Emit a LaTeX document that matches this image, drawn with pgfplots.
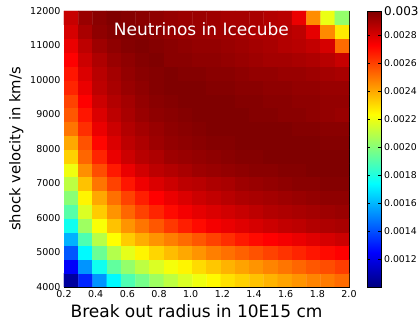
\documentclass[border=0pt]{standalone}
\usepackage{pgfplots}
\pgfplotsset{compat=1.18}
\usepackage{fontspec}
\setmainfont{DejaVu Sans}
\begin{document}
\begin{tikzpicture}
\begin{axis}[
  name=main,
  scale only axis,
  width=285pt, height=276pt,
  xmin=0.2, xmax=2.0, ymin=4000, ymax=12000,
  scaled ticks=false,
  xtick={0.2,0.4,0.6,0.8,1.0,1.2,1.4,1.6,1.8,2.0},
  xticklabels={0.2,0.4,0.6,0.8,1.0,1.2,1.4,1.6,1.8,2.0},
  ytick={4000,5000,6000,7000,8000,9000,10000,11000,12000},
  yticklabels={4000,5000,6000,7000,8000,9000,10000,11000,12000},
  tick label style={font=\fontsize{9.5}{11}\selectfont},
  tick align=inside,
  major tick length=4pt,
  tick style={black, line width=0.5pt},
  axis line style={black, line width=0.6pt},
  xlabel={Break out radius in 10E15 cm},
  xlabel style={font=\fontsize{17}{20}\selectfont, xshift=-10pt, inner ysep=0pt, yshift=-3pt},
  ylabel={shock velocity in km/s},
  ylabel style={font=\fontsize{14.8}{17}\selectfont},
  colormap/jet,
  point meta min=0.001, point meta max=0.00297,
  colorbar shift/.style={xshift=18pt},
  colorbar,
  colorbar style={
    at={(parent axis.north east)}, anchor=north west,
    scale only axis, width=14pt, height=276pt,
    scaled ticks=false,
    ytick={0.0012,0.0014,0.0016,0.0018,0.0020,0.0022,0.0024,0.0026,0.0028,0.00297},
    yticklabels={0.0012,0.0014,0.0016,0.0018,0.0020,0.0022,0.0024,0.0026,0.0028,{\fontsize{12}{14}\selectfont 0.003}},
    yticklabel style={font=\fontsize{9.3}{11}\selectfont, inner xsep=0pt, xshift=3pt},
    tick align=inside, major tick length=3pt,
    axis line style={black, line width=0.5pt},
  },
]
\addplot[matrix plot*, mesh/cols=20, mesh/rows=20, point meta=explicit] coordinates {
(0.245,4200)[1.059e-3] (0.335,4200)[1.315e-3] (0.425,4200)[1.532e-3] (0.515,4200)[1.729e-3] (0.605,4200)[1.887e-3] (0.695,4200)[1.965e-3] (0.785,4200)[2.044e-3] (0.875,4200)[2.103e-3] (0.965,4200)[2.162e-3] (1.055,4200)[2.202e-3] (1.145,4200)[2.241e-3] (1.235,4200)[2.290e-3] (1.325,4200)[2.320e-3] (1.415,4200)[2.349e-3] (1.505,4200)[2.379e-3] (1.595,4200)[2.409e-3] (1.685,4200)[2.438e-3] (1.775,4200)[2.468e-3] (1.865,4200)[2.487e-3] (1.955,4200)[2.517e-3]
(0.245,4600)[1.236e-3] (0.335,4600)[1.532e-3] (0.425,4600)[1.768e-3] (0.515,4600)[1.926e-3] (0.605,4600)[2.024e-3] (0.695,4600)[2.103e-3] (0.785,4600)[2.162e-3] (0.875,4600)[2.212e-3] (0.965,4600)[2.251e-3] (1.055,4600)[2.300e-3] (1.145,4600)[2.340e-3] (1.235,4600)[2.379e-3] (1.325,4600)[2.409e-3] (1.415,4600)[2.438e-3] (1.505,4600)[2.468e-3] (1.595,4600)[2.497e-3] (1.685,4600)[2.527e-3] (1.775,4600)[2.556e-3] (1.865,4600)[2.576e-3] (1.955,4600)[2.606e-3]
(0.245,5000)[1.414e-3] (0.335,5000)[1.729e-3] (0.425,5000)[1.946e-3] (0.515,5000)[2.084e-3] (0.605,5000)[2.182e-3] (0.695,5000)[2.251e-3] (0.785,5000)[2.310e-3] (0.875,5000)[2.359e-3] (0.965,5000)[2.399e-3] (1.055,5000)[2.438e-3] (1.145,5000)[2.478e-3] (1.235,5000)[2.507e-3] (1.325,5000)[2.537e-3] (1.415,5000)[2.566e-3] (1.505,5000)[2.596e-3] (1.595,5000)[2.625e-3] (1.685,5000)[2.655e-3] (1.775,5000)[2.684e-3] (1.865,5000)[2.704e-3] (1.955,5000)[2.724e-3]
(0.245,5400)[1.591e-3] (0.335,5400)[1.887e-3] (0.425,5400)[2.093e-3] (0.515,5400)[2.231e-3] (0.605,5400)[2.330e-3] (0.695,5400)[2.389e-3] (0.785,5400)[2.438e-3] (0.875,5400)[2.478e-3] (0.965,5400)[2.517e-3] (1.055,5400)[2.556e-3] (1.145,5400)[2.596e-3] (1.235,5400)[2.635e-3] (1.325,5400)[2.675e-3] (1.415,5400)[2.704e-3] (1.505,5400)[2.724e-3] (1.595,5400)[2.743e-3] (1.685,5400)[2.763e-3] (1.775,5400)[2.783e-3] (1.865,5400)[2.803e-3] (1.955,5400)[2.822e-3]
(0.245,5800)[1.768e-3] (0.335,5800)[2.044e-3] (0.425,5800)[2.221e-3] (0.515,5800)[2.349e-3] (0.605,5800)[2.438e-3] (0.695,5800)[2.497e-3] (0.785,5800)[2.556e-3] (0.875,5800)[2.615e-3] (0.965,5800)[2.665e-3] (1.055,5800)[2.704e-3] (1.145,5800)[2.743e-3] (1.235,5800)[2.763e-3] (1.325,5800)[2.783e-3] (1.415,5800)[2.803e-3] (1.505,5800)[2.822e-3] (1.595,5800)[2.842e-3] (1.685,5800)[2.852e-3] (1.775,5800)[2.872e-3] (1.865,5800)[2.881e-3] (1.955,5800)[2.891e-3]
(0.245,6200)[1.906e-3] (0.335,6200)[2.162e-3] (0.425,6200)[2.330e-3] (0.515,6200)[2.438e-3] (0.605,6200)[2.527e-3] (0.695,6200)[2.596e-3] (0.785,6200)[2.655e-3] (0.875,6200)[2.704e-3] (0.965,6200)[2.743e-3] (1.055,6200)[2.773e-3] (1.145,6200)[2.793e-3] (1.235,6200)[2.812e-3] (1.325,6200)[2.832e-3] (1.415,6200)[2.852e-3] (1.505,6200)[2.872e-3] (1.595,6200)[2.881e-3] (1.685,6200)[2.891e-3] (1.775,6200)[2.901e-3] (1.865,6200)[2.911e-3] (1.955,6200)[2.921e-3]
(0.245,6600)[2.005e-3] (0.335,6600)[2.251e-3] (0.425,6600)[2.399e-3] (0.515,6600)[2.507e-3] (0.605,6600)[2.596e-3] (0.695,6600)[2.665e-3] (0.785,6600)[2.724e-3] (0.875,6600)[2.763e-3] (0.965,6600)[2.793e-3] (1.055,6600)[2.822e-3] (1.145,6600)[2.842e-3] (1.235,6600)[2.862e-3] (1.325,6600)[2.881e-3] (1.415,6600)[2.891e-3] (1.505,6600)[2.901e-3] (1.595,6600)[2.911e-3] (1.685,6600)[2.921e-3] (1.775,6600)[2.931e-3] (1.865,6600)[2.940e-3] (1.955,6600)[2.940e-3]
(0.245,7000)[2.103e-3] (0.335,7000)[2.349e-3] (0.425,7000)[2.497e-3] (0.515,7000)[2.596e-3] (0.605,7000)[2.684e-3] (0.695,7000)[2.753e-3] (0.785,7000)[2.793e-3] (0.875,7000)[2.822e-3] (0.965,7000)[2.852e-3] (1.055,7000)[2.862e-3] (1.145,7000)[2.881e-3] (1.235,7000)[2.891e-3] (1.325,7000)[2.911e-3] (1.415,7000)[2.921e-3] (1.505,7000)[2.931e-3] (1.595,7000)[2.940e-3] (1.685,7000)[2.950e-3] (1.775,7000)[2.950e-3] (1.865,7000)[2.960e-3] (1.955,7000)[2.960e-3]
(0.245,7400)[2.202e-3] (0.335,7400)[2.448e-3] (0.425,7400)[2.576e-3] (0.515,7400)[2.675e-3] (0.605,7400)[2.763e-3] (0.695,7400)[2.812e-3] (0.785,7400)[2.852e-3] (0.875,7400)[2.872e-3] (0.965,7400)[2.891e-3] (1.055,7400)[2.911e-3] (1.145,7400)[2.921e-3] (1.235,7400)[2.931e-3] (1.325,7400)[2.940e-3] (1.415,7400)[2.950e-3] (1.505,7400)[2.950e-3] (1.595,7400)[2.960e-3] (1.685,7400)[2.960e-3] (1.775,7400)[2.970e-3] (1.865,7400)[2.970e-3] (1.955,7400)[2.970e-3]
(0.245,7800)[2.320e-3] (0.335,7800)[2.527e-3] (0.425,7800)[2.655e-3] (0.515,7800)[2.763e-3] (0.605,7800)[2.822e-3] (0.695,7800)[2.862e-3] (0.785,7800)[2.881e-3] (0.875,7800)[2.911e-3] (0.965,7800)[2.921e-3] (1.055,7800)[2.931e-3] (1.145,7800)[2.940e-3] (1.235,7800)[2.950e-3] (1.325,7800)[2.960e-3] (1.415,7800)[2.960e-3] (1.505,7800)[2.970e-3] (1.595,7800)[2.970e-3] (1.685,7800)[2.970e-3] (1.775,7800)[2.970e-3] (1.865,7800)[2.970e-3] (1.955,7800)[2.970e-3]
(0.245,8200)[2.399e-3] (0.335,8200)[2.566e-3] (0.425,8200)[2.714e-3] (0.515,8200)[2.793e-3] (0.605,8200)[2.852e-3] (0.695,8200)[2.881e-3] (0.785,8200)[2.911e-3] (0.875,8200)[2.931e-3] (0.965,8200)[2.940e-3] (1.055,8200)[2.950e-3] (1.145,8200)[2.960e-3] (1.235,8200)[2.960e-3] (1.325,8200)[2.970e-3] (1.415,8200)[2.970e-3] (1.505,8200)[2.970e-3] (1.595,8200)[2.970e-3] (1.685,8200)[2.970e-3] (1.775,8200)[2.970e-3] (1.865,8200)[2.960e-3] (1.955,8200)[2.960e-3]
(0.245,8600)[2.497e-3] (0.335,8600)[2.635e-3] (0.425,8600)[2.763e-3] (0.515,8600)[2.822e-3] (0.605,8600)[2.872e-3] (0.695,8600)[2.901e-3] (0.785,8600)[2.921e-3] (0.875,8600)[2.940e-3] (0.965,8600)[2.950e-3] (1.055,8600)[2.960e-3] (1.145,8600)[2.970e-3] (1.235,8600)[2.970e-3] (1.325,8600)[2.970e-3] (1.415,8600)[2.970e-3] (1.505,8600)[2.970e-3] (1.595,8600)[2.970e-3] (1.685,8600)[2.960e-3] (1.775,8600)[2.960e-3] (1.865,8600)[2.950e-3] (1.955,8600)[2.950e-3]
(0.245,9000)[2.556e-3] (0.335,9000)[2.684e-3] (0.425,9000)[2.793e-3] (0.515,9000)[2.852e-3] (0.605,9000)[2.891e-3] (0.695,9000)[2.921e-3] (0.785,9000)[2.940e-3] (0.875,9000)[2.950e-3] (0.965,9000)[2.960e-3] (1.055,9000)[2.970e-3] (1.145,9000)[2.970e-3] (1.235,9000)[2.970e-3] (1.325,9000)[2.970e-3] (1.415,9000)[2.960e-3] (1.505,9000)[2.960e-3] (1.595,9000)[2.950e-3] (1.685,9000)[2.950e-3] (1.775,9000)[2.940e-3] (1.865,9000)[2.931e-3] (1.955,9000)[2.921e-3]
(0.245,9400)[2.596e-3] (0.335,9400)[2.724e-3] (0.425,9400)[2.822e-3] (0.515,9400)[2.872e-3] (0.605,9400)[2.901e-3] (0.695,9400)[2.931e-3] (0.785,9400)[2.950e-3] (0.875,9400)[2.960e-3] (0.965,9400)[2.970e-3] (1.055,9400)[2.970e-3] (1.145,9400)[2.970e-3] (1.235,9400)[2.970e-3] (1.325,9400)[2.960e-3] (1.415,9400)[2.960e-3] (1.505,9400)[2.950e-3] (1.595,9400)[2.950e-3] (1.685,9400)[2.940e-3] (1.775,9400)[2.940e-3] (1.865,9400)[2.931e-3] (1.955,9400)[2.931e-3]
(0.245,9800)[2.655e-3] (0.335,9800)[2.763e-3] (0.425,9800)[2.852e-3] (0.515,9800)[2.891e-3] (0.605,9800)[2.921e-3] (0.695,9800)[2.940e-3] (0.785,9800)[2.960e-3] (0.875,9800)[2.970e-3] (0.965,9800)[2.970e-3] (1.055,9800)[2.970e-3] (1.145,9800)[2.960e-3] (1.235,9800)[2.960e-3] (1.325,9800)[2.950e-3] (1.415,9800)[2.950e-3] (1.505,9800)[2.940e-3] (1.595,9800)[2.940e-3] (1.685,9800)[2.931e-3] (1.775,9800)[2.931e-3] (1.865,9800)[2.921e-3] (1.955,9800)[2.921e-3]
(0.245,10200)[2.684e-3] (0.335,10200)[2.793e-3] (0.425,10200)[2.862e-3] (0.515,10200)[2.901e-3] (0.605,10200)[2.931e-3] (0.695,10200)[2.950e-3] (0.785,10200)[2.960e-3] (0.875,10200)[2.970e-3] (0.965,10200)[2.960e-3] (1.055,10200)[2.960e-3] (1.145,10200)[2.950e-3] (1.235,10200)[2.950e-3] (1.325,10200)[2.940e-3] (1.415,10200)[2.931e-3] (1.505,10200)[2.931e-3] (1.595,10200)[2.921e-3] (1.685,10200)[2.921e-3] (1.775,10200)[2.911e-3] (1.865,10200)[2.901e-3] (1.955,10200)[2.891e-3]
(0.245,10600)[2.724e-3] (0.335,10600)[2.822e-3] (0.425,10600)[2.881e-3] (0.515,10600)[2.921e-3] (0.605,10600)[2.940e-3] (0.695,10600)[2.960e-3] (0.785,10600)[2.970e-3] (0.875,10600)[2.950e-3] (0.965,10600)[2.950e-3] (1.055,10600)[2.940e-3] (1.145,10600)[2.940e-3] (1.235,10600)[2.931e-3] (1.325,10600)[2.921e-3] (1.415,10600)[2.911e-3] (1.505,10600)[2.901e-3] (1.595,10600)[2.901e-3] (1.685,10600)[2.891e-3] (1.775,10600)[2.881e-3] (1.865,10600)[2.862e-3] (1.955,10600)[2.832e-3]
(0.245,11000)[2.763e-3] (0.335,11000)[2.852e-3] (0.425,11000)[2.911e-3] (0.515,11000)[2.940e-3] (0.605,11000)[2.960e-3] (0.695,11000)[2.970e-3] (0.785,11000)[2.960e-3] (0.875,11000)[2.950e-3] (0.965,11000)[2.940e-3] (1.055,11000)[2.931e-3] (1.145,11000)[2.931e-3] (1.235,11000)[2.921e-3] (1.325,11000)[2.911e-3] (1.415,11000)[2.901e-3] (1.505,11000)[2.891e-3] (1.595,11000)[2.872e-3] (1.685,11000)[2.862e-3] (1.775,11000)[2.842e-3] (1.865,11000)[2.803e-3] (1.955,11000)[2.517e-3]
(0.245,11400)[2.803e-3] (0.335,11400)[2.891e-3] (0.425,11400)[2.940e-3] (0.515,11400)[2.960e-3] (0.605,11400)[2.970e-3] (0.695,11400)[2.960e-3] (0.785,11400)[2.950e-3] (0.875,11400)[2.931e-3] (0.965,11400)[2.921e-3] (1.055,11400)[2.921e-3] (1.145,11400)[2.911e-3] (1.235,11400)[2.911e-3] (1.325,11400)[2.901e-3] (1.415,11400)[2.881e-3] (1.505,11400)[2.881e-3] (1.595,11400)[2.872e-3] (1.685,11400)[2.852e-3] (1.775,11400)[2.773e-3] (1.865,11400)[2.458e-3] (1.955,11400)[2.271e-3]
(0.245,11800)[2.832e-3] (0.335,11800)[2.921e-3] (0.425,11800)[2.950e-3] (0.515,11800)[2.970e-3] (0.605,11800)[2.960e-3] (0.695,11800)[2.950e-3] (0.785,11800)[2.940e-3] (0.875,11800)[2.927e-3] (0.965,11800)[2.917e-3] (1.055,11800)[2.917e-3] (1.145,11800)[2.911e-3] (1.235,11800)[2.897e-3] (1.325,11800)[2.897e-3] (1.415,11800)[2.891e-3] (1.505,11800)[2.872e-3] (1.595,11800)[2.862e-3] (1.685,11800)[2.763e-3] (1.775,11800)[2.452e-3] (1.865,11800)[2.192e-3] (1.955,11800)[2.024e-3]
};
\node[white, font=\fontsize{17}{20}\selectfont] at (rel axis cs:0.482,0.935) {Neutrinos in Icecube};
\end{axis}
\path ([shift={(-64pt,-33pt)}]main.south west) rectangle ([shift={(70pt,11pt)}]main.north east);
\end{tikzpicture}
\end{document}
